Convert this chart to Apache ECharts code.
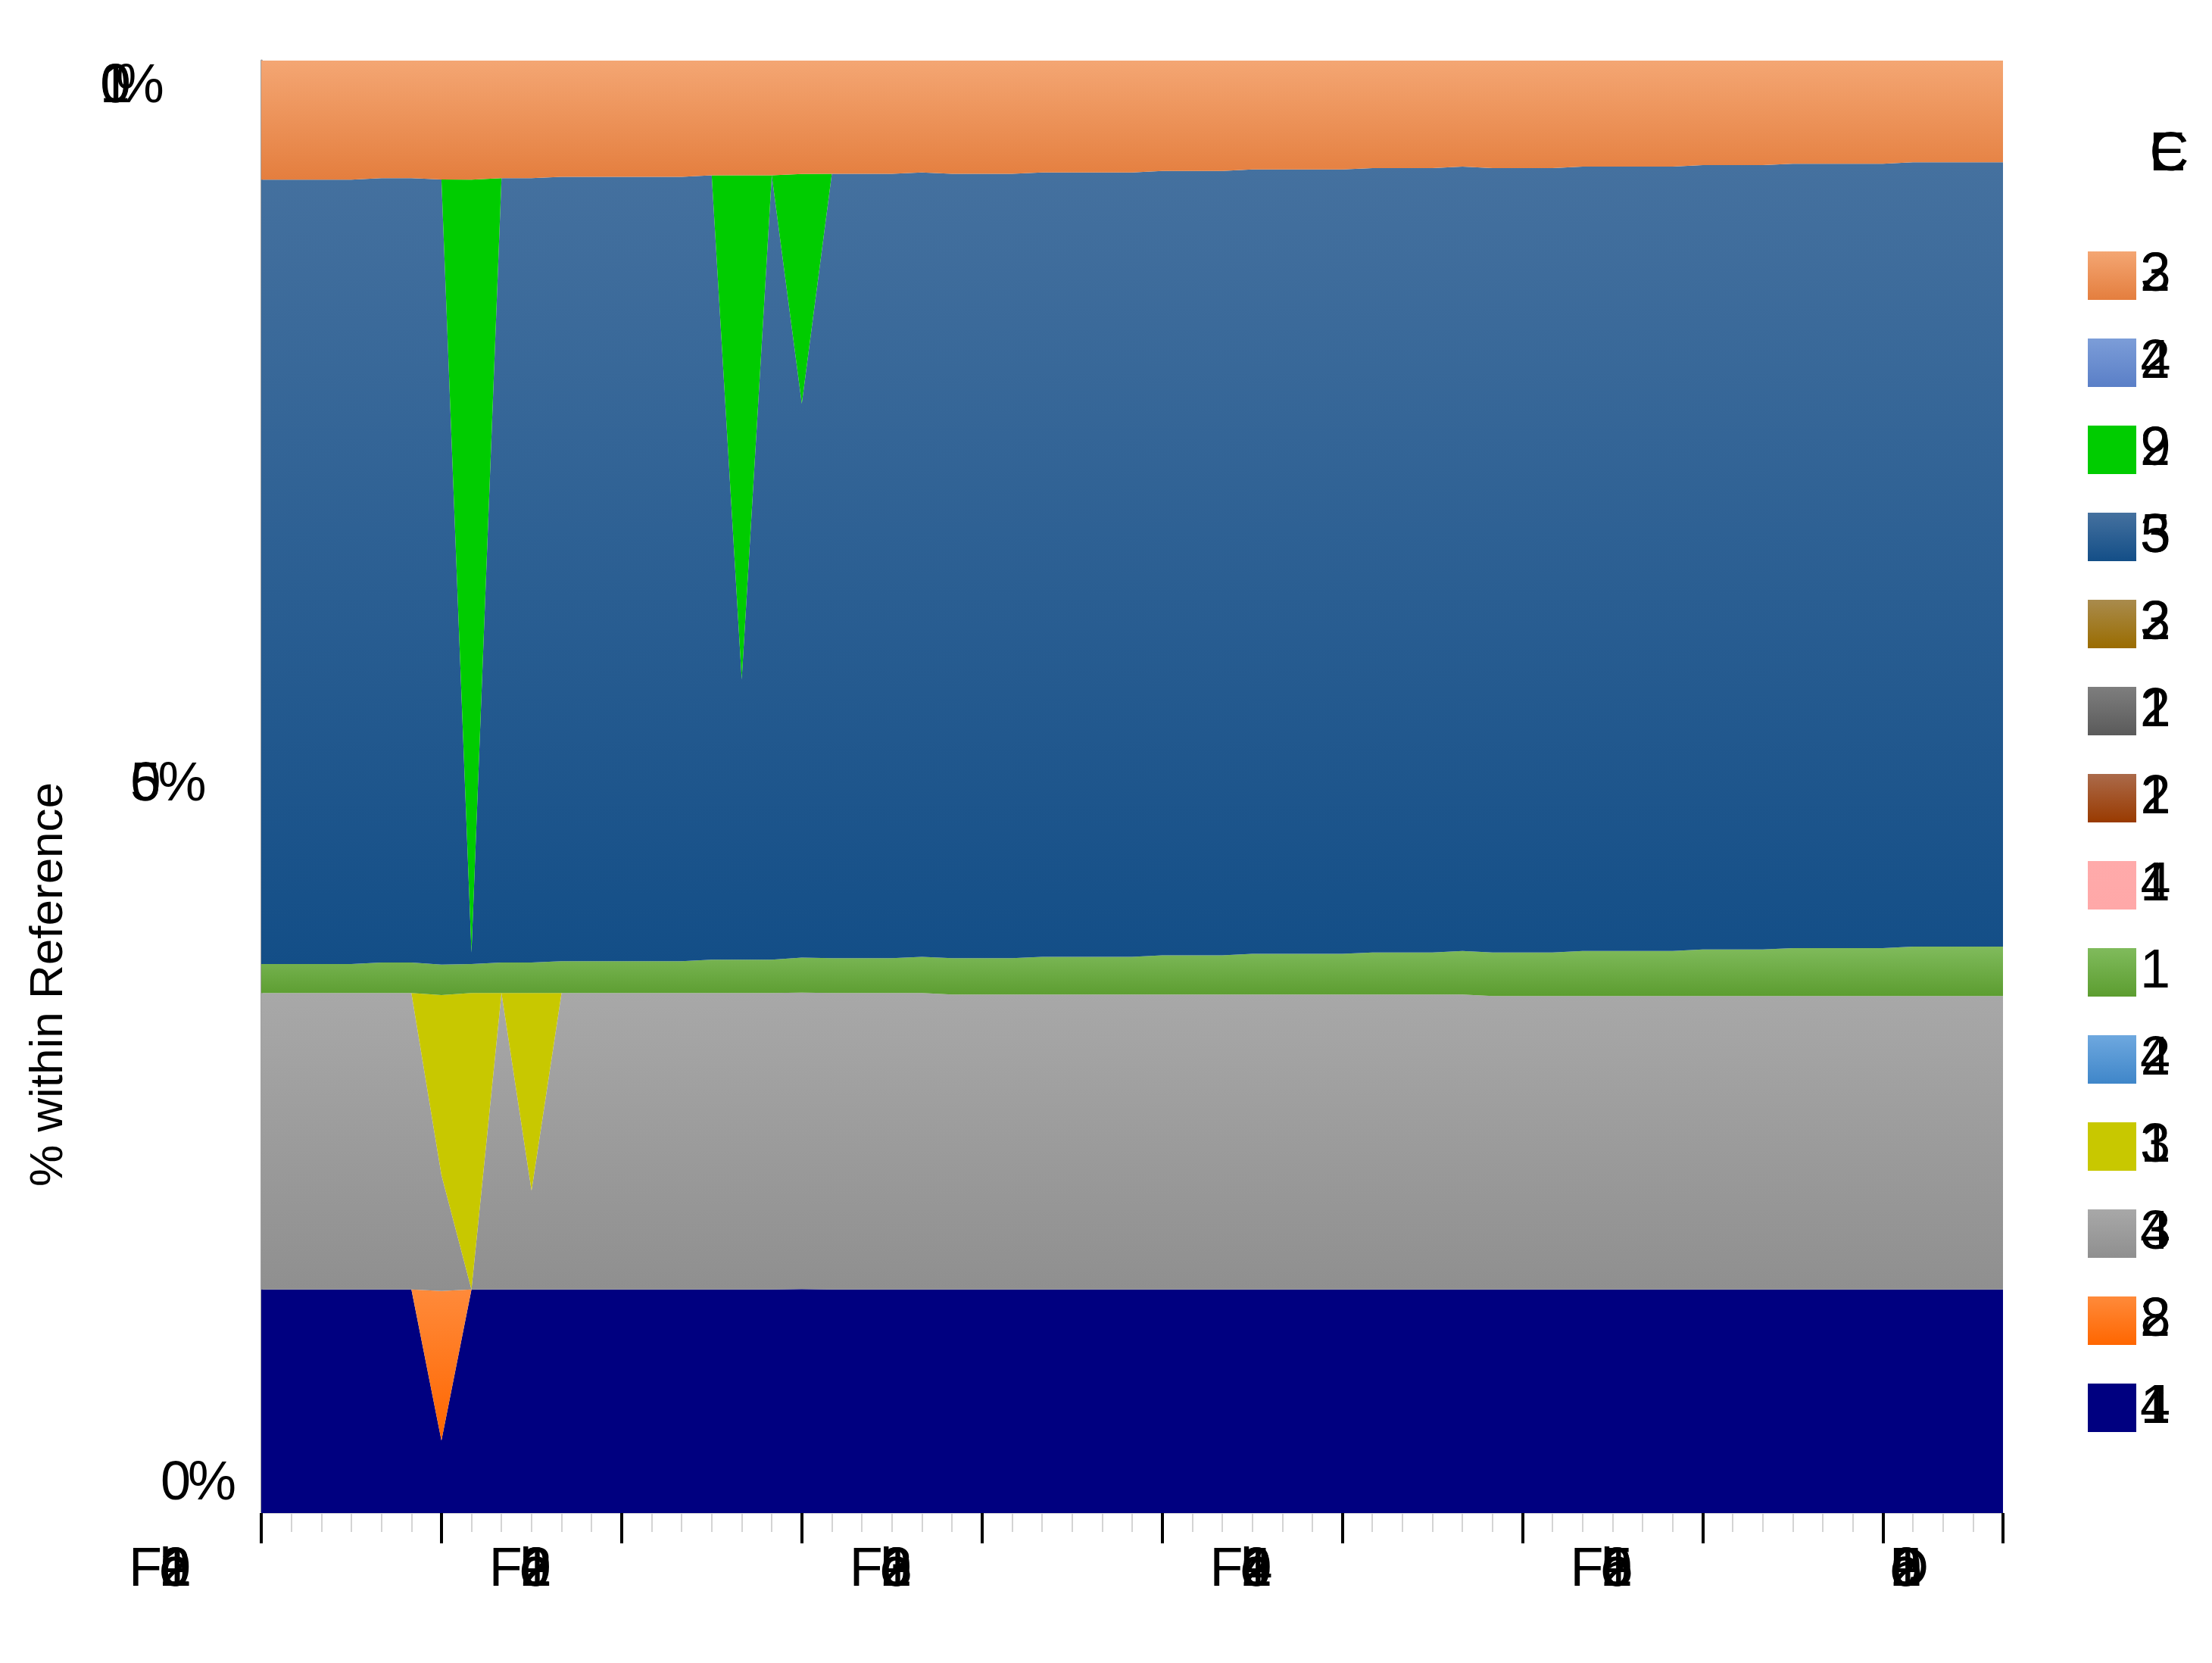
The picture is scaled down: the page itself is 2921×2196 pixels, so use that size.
<!DOCTYPE html>
<html><head><meta charset="utf-8">
<script src="https://cdn.jsdelivr.net/npm/echarts@6/dist/echarts.min.js"></script>
<style>html,body{margin:0;padding:0;background:#fff}#c{width:2921px;height:2196px}</style>
</head><body><div id="c"></div>
<script>
const months = ["Feb 2011","Mar 2011","Apr 2011","May 2011","Jun 2011","Jul 2011","Aug 2011","Sep 2011","Oct 2011","Nov 2011","Dec 2011",
"Jan 2012","Feb 2012","Mar 2012","Apr 2012","May 2012","Jun 2012","Jul 2012","Aug 2012","Sep 2012","Oct 2012","Nov 2012","Dec 2012",
"Jan 2013","Feb 2013","Mar 2013","Apr 2013","May 2013","Jun 2013","Jul 2013","Aug 2013","Sep 2013","Oct 2013","Nov 2013","Dec 2013",
"Jan 2014","Feb 2014","Mar 2014","Apr 2014","May 2014","Jun 2014","Jul 2014","Aug 2014","Sep 2014","Oct 2014","Nov 2014","Dec 2014",
"Jan 2015","Feb 2015","Mar 2015","Apr 2015","May 2015","Jun 2015","Jul 2015","Aug 2015","Sep 2015","Oct 2015","Nov 2015","Dec 2015"];

const yTicks = ["0%","50%","100%"];
const legendTitle = "EC";
const yTitle = "% within Reference";

// series, bottom of the stack first
const s41 = [15.4,15.4,15.4,15.4,15.4,15.4,5.0,15.4,15.4,15.4,
 15.4,15.4,15.4,15.4,15.4,15.4,15.4,15.4,15.4,15.4,
 15.4,15.4,15.4,15.4,15.4,15.4,15.4,15.4,15.4,15.4,
 15.4,15.4,15.4,15.4,15.4,15.4,15.4,15.4,15.4,15.4,
 15.4,15.4,15.4,15.4,15.4,15.4,15.4,15.4,15.4,15.4,
 15.4,15.4,15.4,15.4,15.4,15.4,15.4,15.4,15.4];
const s28 = [0,0,0,0,0,0,10.3,0,0,0,
 0,0,0,0,0,0,0,0,0,0,
 0,0,0,0,0,0,0,0,0,0,
 0,0,0,0,0,0,0,0,0,0,
 0,0,0,0,0,0,0,0,0,0,
 0,0,0,0,0,0,0,0,0];
const s43 = [20.4,20.4,20.4,20.4,20.4,20.4,8.0,0,20.4,6.8,
 20.4,20.4,20.4,20.4,20.4,20.4,20.4,20.4,20.4,20.4,
 20.4,20.4,20.4,20.3,20.3,20.3,20.3,20.3,20.3,20.3,
 20.3,20.3,20.3,20.3,20.3,20.3,20.3,20.3,20.3,20.3,
 20.3,20.2,20.2,20.2,20.2,20.2,20.2,20.2,20.2,20.2,
 20.2,20.2,20.2,20.2,20.2,20.2,20.2,20.2,20.2];
const s31 = [0,0,0,0,0,0,12.4,20.4,0,13.6,
 0,0,0,0,0,0,0,0,0,0,
 0,0,0,0,0,0,0,0,0,0,
 0,0,0,0,0,0,0,0,0,0,
 0,0,0,0,0,0,0,0,0,0,
 0,0,0,0,0,0,0,0,0];
const s42 = [0,0,0,0,0,0,0,0,0,0,
 0,0,0,0,0,0,0,0,0,0,
 0,0,0,0,0,0,0,0,0,0,
 0,0,0,0,0,0,0,0,0,0,
 0,0,0,0,0,0,0,0,0,0,
 0,0,0,0,0,0,0,0,0];
const s1 = [2.0,2.0,2.0,2.0,2.1,2.1,2.1,2.0,2.1,2.1,
 2.2,2.2,2.2,2.2,2.2,2.3,2.3,2.3,2.4,2.4,
 2.4,2.4,2.5,2.5,2.5,2.5,2.6,2.6,2.6,2.6,
 2.7,2.7,2.7,2.8,2.8,2.8,2.8,2.9,2.9,2.9,
 3.0,3.0,3.0,3.0,3.1,3.1,3.1,3.1,3.2,3.2,
 3.2,3.3,3.3,3.3,3.3,3.4,3.4,3.4,3.4];
const s14 = [0,0,0,0,0,0,0,0,0,0,
 0,0,0,0,0,0,0,0,0,0,
 0,0,0,0,0,0,0,0,0,0,
 0,0,0,0,0,0,0,0,0,0,
 0,0,0,0,0,0,0,0,0,0,
 0,0,0,0,0,0,0,0,0];
const s12 = [0,0,0,0,0,0,0,0,0,0,
 0,0,0,0,0,0,0,0,0,0,
 0,0,0,0,0,0,0,0,0,0,
 0,0,0,0,0,0,0,0,0,0,
 0,0,0,0,0,0,0,0,0,0,
 0,0,0,0,0,0,0,0,0];
const s21 = [0,0,0,0,0,0,0,0,0,0,
 0,0,0,0,0,0,0,0,0,0,
 0,0,0,0,0,0,0,0,0,0,
 0,0,0,0,0,0,0,0,0,0,
 0,0,0,0,0,0,0,0,0,0,
 0,0,0,0,0,0,0,0,0];
const s32 = [0,0,0,0,0,0,0,0,0,0,
 0,0,0,0,0,0,0,0,0,0,
 0,0,0,0,0,0,0,0,0,0,
 0,0,0,0,0,0,0,0,0,0,
 0,0,0,0,0,0,0,0,0,0,
 0,0,0,0,0,0,0,0,0];
const s35 = [54,54,54,54,54,54,54.1,0.8,54,54,
 54,54,54,54,54,54,19.3,54,38.1,54,
 54,54,54,54,54,54,54,54,54,54,
 54,54,54,54,54,54,54,54,54,54,
 54,54,54,54,54,54,54,54,54,54,
 54,54,54,54,54,54,54,54,54];
const s29 = [0,0,0,0,0,0,0,53.2,0,0,
 0,0,0,0,0,0,34.7,0,15.8,0,
 0,0,0,0,0,0,0,0,0,0,
 0,0,0,0,0,0,0,0,0,0,
 0,0,0,0,0,0,0,0,0,0,
 0,0,0,0,0,0,0,0,0];
const s24 = [0,0,0,0,0,0,0,0,0,0,
 0,0,0,0,0,0,0,0,0,0,
 0,0,0,0,0,0,0,0,0,0,
 0,0,0,0,0,0,0,0,0,0,
 0,0,0,0,0,0,0,0,0,0,
 0,0,0,0,0,0,0,0,0];
const s23 = [8.2,8.2,8.2,8.2,8.1,8.1,8.2,8.2,8.1,8.1,
 8.0,8.0,8.0,8.0,8.0,7.9,7.9,7.9,7.8,7.8,
 7.8,7.8,7.7,7.8,7.8,7.8,7.7,7.7,7.7,7.7,
 7.6,7.6,7.6,7.5,7.5,7.5,7.5,7.4,7.4,7.4,
 7.3,7.4,7.4,7.4,7.3,7.3,7.3,7.3,7.2,7.2,
 7.2,7.1,7.1,7.1,7.1,7.0,7.0,7.0,7.0];

const seriesNames = ["41","28","43","31","42","1","14","12","21","32","35","29","24","23"];
const seriesData = [s41,s28,s43,s31,s42,s1,s14,s12,s21,s32,s35,s29,s24,s23];
const seriesColors = [
  ["#000080","#000080"],["#ff8a3a","#ff6600"],["#a8a8a8","#8f8f8f"],["#c8c800","#c8c800"],
  ["#6ea8df","#3f86c9"],["#80bb5c","#5c9d30"],["#ffaaaa","#ffa8a8"],["#ab6a4a","#993a00"],
  ["#7e7e7e","#5a5a5a"],["#a98b4d","#9a6c00"],["#45719f","#134e87"],["#00cc00","#00cc00"],
  ["#7c9dd8","#5a7fc7"],["#f4a673","#e47e3e"]
];

// 100% stacking: each month is scaled to its own total
const totals = months.map((m,i)=>seriesData.reduce((a,s)=>a+s[i],0));
const pct = seriesData.map(s=>s.map((v,i)=>v*100/totals[i]));

const FS = 72, FONT = 'Liberation Sans';
const cv = document.createElement('canvas').getContext('2d');
cv.font = FS+'px "'+FONT+'"';
const tw = s => cv.measureText(s).width;
const rich = {};
function tok(w){ const k='w'+Math.round(w*10); if(!rich[k]) rich[k]={width:w,align:'left',fontSize:FS,fontFamily:FONT,color:'#000',lineHeight:64}; return k; }
function collapsed(str, adv, total){
  let out='', used=0;
  for(let i=0;i<str.length;i++){
    let w;
    if(i<str.length-1){ w = adv[i]!=null?adv[i]:0.5; used+=w; } else { w=Math.max(1,total-used); }
    out += '{'+tok(w)+'|'+str[i]+'}';
  }
  return out;
}
const xLab = {};
months.forEach((m,i)=>{
  if(i%12===0) xLab[i]=collapsed(m,[40],350);
  if(i===months.length-1) xLab[i]=collapsed(m,[],300);
});
const yLab = {0:collapsed(yTicks[0],[36],tw(yTicks[0])),50:collapsed(yTicks[1],[0.5,36],tw(yTicks[1])),100:collapsed(yTicks[2],[0.5,0.5,20],tw(yTicks[2]))};
const legLab = {};
seriesNames.forEach(n=>{ legLab[n]=collapsed(n,[0.5],tw(n)+8); });
const titleStr = collapsed(legendTitle,[0.5],tw(legendTitle));

const grad = c => new echarts.graphic.LinearGradient(0,0,0,1,[{offset:0,color:c[0]},{offset:1,color:c[1]}]);

const series = seriesNames.map((n,k)=>({
  name:n, type:'line', stack:'all', data:pct[k], xAxisIndex:0, yAxisIndex:0,
  showSymbol:false, symbol:'none', lineStyle:{width:0}, smooth:false,
  itemStyle:{color:grad(seriesColors[k])},
  areaStyle:{color:grad(seriesColors[k]), opacity:1},
  emphasis:{disabled:true}
}));

const last = months.length-1;
const option = {
  animation:false,
  backgroundColor:'#fff',
  grid:[
    {left:345,right:276,top:80,bottom:198},
    {left:345,right:276,top:115,bottom:236,show:false}
  ],
  xAxis:[
    {type:'category',data:months,boundaryGap:false,position:'bottom',gridIndex:0,
     axisLine:{show:true,lineStyle:{color:'#d4d4d4',width:2}},
     axisTick:{show:true,interval:0,length:25,lineStyle:{color:'#d4d4d4',width:2}},
     axisLabel:{show:false},splitLine:{show:false}},
    {type:'category',data:months,boundaryGap:false,position:'bottom',gridIndex:0,
     axisLine:{show:false},
     axisTick:{show:true,interval:(i)=>i%6===0||i===last,length:40,lineStyle:{color:'#000',width:4}},
     axisLabel:{show:true,interval:(i)=>i%12===0||i===last,margin:44,formatter:(v,i)=>xLab[i]||'',
       fontSize:FS,fontFamily:FONT,color:'#000',rich:rich},
     splitLine:{show:false}},
    {type:'category',data:months,gridIndex:1,show:false}
  ],
  yAxis:[
    {type:'value',min:0,max:100,gridIndex:0,
     axisLine:{show:true,lineStyle:{color:'#a0a0a0',width:3}},axisTick:{show:false},
     axisLabel:{show:false},splitLine:{show:false}},
    {type:'value',min:0,max:100,interval:50,gridIndex:1,
     axisLine:{show:false},axisTick:{show:false},splitLine:{show:false},
     axisLabel:{show:true,margin:29,formatter:v=>yLab[v]||'',fontSize:FS,fontFamily:FONT,color:'#000',rich:rich}}
  ],
  legend:{
    orient:'vertical',left:2757,top:328,itemWidth:64,itemHeight:64,itemGap:43,icon:'rect',padding:0,
    selectedMode:false,data:seriesNames.slice().reverse(),
    formatter:n=>legLab[n],
    textStyle:{fontSize:FS,fontFamily:FONT,color:'#000',lineHeight:64,rich:rich}
  },
  graphic:[
    {type:'text',x:2838,y:205,style:{text:titleStr,rich:rich,fontSize:FS,fontFamily:FONT,fill:'#000',align:'left',verticalAlign:'middle'}},
    {type:'text',x:65,y:1300,rotation:Math.PI/2,style:{text:yTitle,fontSize:62,fontFamily:FONT,fill:'#000',align:'center',verticalAlign:'middle'}}
  ],
  series:series
};
const chart = echarts.init(document.getElementById('c'),null,{renderer:'canvas'});
chart.setOption(option);
</script></body></html>
